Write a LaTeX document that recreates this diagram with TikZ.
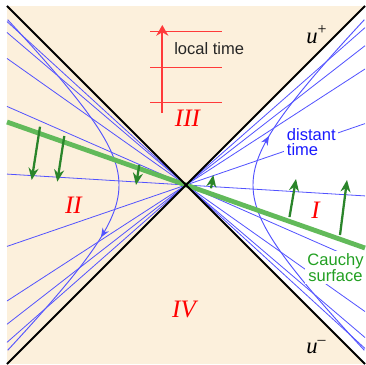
\documentclass[tikz,border=0pt]{standalone}
\usepackage{fontspec}
\setmainfont{Liberation Serif}
\setsansfont{Liberation Sans}
\usetikzlibrary{arrows.meta}
\definecolor{cBg}{HTML}{FCF0DC}
\definecolor{cLn}{HTML}{5252FF}
\definecolor{cTx}{HTML}{1A1AFF}
\definecolor{cRd}{HTML}{FF3A3A}
\definecolor{cCs}{HTML}{62BA5A}
\definecolor{cKv}{HTML}{2A852A}
\definecolor{cCt}{HTML}{22A022}

\begin{document}
\begin{tikzpicture}[x=0.75pt,y=0.75pt,
  tline/.style={cLn,line width=0.6pt},
  hyp/.style={cLn,line width=0.7pt},
  kv/.style={cKv,line width=1.7pt,-{Stealth[length=9pt,width=7.5pt]}},
  rn/.style={text=red,font=\fontsize{18.8}{19}\selectfont\itshape,anchor=base},
  sf/.style={font=\sffamily\fontsize{12.4}{11.6}\selectfont,fill=white,inner sep=2pt}]
\useasboundingbox (-186,-179) rectangle (180,185);
% background: beige, region I white
\fill[cBg] (-179,-179) rectangle (179,179);
\fill[white] (0,0) -- (179,179) -- (179,-179) -- cycle;
% lines of constant Rindler time
\foreach \m in {-0.913,-0.852,-0.707,-0.439,-0.061,0.343,0.648,0.778,0.879}{
  \draw[tline] (-179,{-179*(\m)}) -- (179,{179*(\m)});}
% accelerated observers
\draw[hyp,-{Stealth[length=7pt,width=5.5pt]}] plot[domain=-1.635:0.68,samples=60,smooth] ({67*cosh(\x)},{67*sinh(\x)});
\draw[hyp] plot[domain=0.6:1.635,samples=30,smooth] ({67*cosh(\x)},{67*sinh(\x)});
\draw[hyp,-{Stealth[length=7pt,width=5.5pt]}] plot[domain=-1.635:0.72,samples=60,smooth] ({-67*cosh(\x)},{-67*sinh(\x)});
\draw[hyp] plot[domain=0.65:1.635,samples=30,smooth] ({-67*cosh(\x)},{-67*sinh(\x)});
% Cauchy surface and boost vectors
\draw[cCs,line width=3.6pt] (-179,63) -- (179,-63);
\foreach \a/\b/\c/\d in {-146/58.3/-154.3/5,-121.7/49/-128.7/3.3,-46.7/20/-50/0,
  25/-3.3/27.3/10,103.5/-32/110/6,154/-50/161/5}{
  \draw[kv] (\a,\b) -- (\c,\d);}
% horizons
\draw[black,line width=1.5pt] (-179,179) -- (179,-179);
\draw[black,line width=1.5pt] (-179,-179) -- (179,179);
% local time
\foreach \y in {154,117.7,82.3}{\draw[cRd,line width=0.7pt] (-36,\y) -- (35.7,\y);}
\draw[cRd,line width=1.3pt,-{Stealth[length=8pt,width=9pt,inset=2.5pt]}] (-23.7,72) -- (-23.7,160);
\node[anchor=base west,font=\sffamily\fontsize{12.4}{13}\selectfont,text=black!85,inner sep=0pt] (loc) at (-12,130) {local time};
% regions
\node[rn] (rIII) at (1.5,58.3) {III};
\node[rn] (rII) at (-112.5,-28.7) {II};
\node[rn] (rI) at (129.5,-33.7) {I};
\node[rn] (rIV) at (-2,-132) {IV};
\node[anchor=base west,font=\fontsize{17}{17}\selectfont\itshape,inner sep=0pt] (up) at (120,142) {u\textsuperscript{\upshape +}};
\node[anchor=base west,font=\fontsize{17}{17}\selectfont\itshape,inner sep=0pt] (um) at (120,-168) {u\textsuperscript{\upshape --}};
% labels
\node[sf,text=cTx,align=left,anchor=north west] (dist) at (98,59.7) {distant\\time};
\node[sf,text=cCt,align=center,anchor=north] (cauchy) at (149.5,-66) {Cauchy\\surface};
\end{tikzpicture}
\end{document}
